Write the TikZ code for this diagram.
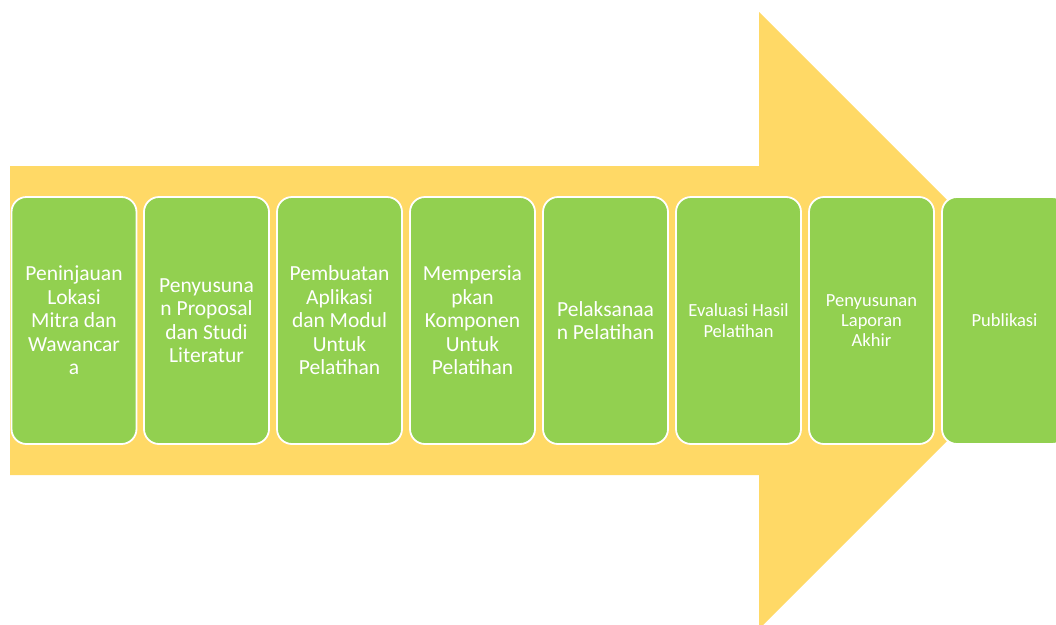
\documentclass[tikz,border=0pt]{standalone}
\usepackage{fontspec}
\setmainfont{Carlito}
\usepackage{tikz}
\usetikzlibrary{positioning}

\definecolor{arrowgold}{HTML}{FFD966}
\definecolor{stepgreen}{HTML}{92D050}

\begin{document}
\begin{tikzpicture}[
  x=1pt,y=-1pt,
  stepbox/.style={rectangle,rounded corners=15pt,draw=white,line width=1.8pt,fill=stepgreen,
    minimum width=125pt,minimum height=247pt,inner sep=2pt,align=center,text=white,
    font=\fontsize{21.5}{23.5}\selectfont},
  smallbox/.style={stepbox,font=\fontsize{18.5}{20.3}\selectfont}
]
  \clip (0,0) rectangle (1056,624);
  % big arrow behind the steps
  \fill[arrowgold] (10,166) -- (759,166) -- (759,12) -- (1067.5,320.5)
    -- (759,629) -- (759,475) -- (10,475) -- cycle;
  \node[stepbox]  (s1) at (74,320.5)    {Peninjauan\\Lokasi\\Mitra dan\\Wawancar\\a};
  \node[stepbox]  (s2) at (206.5,320.5) {Penyusuna\\n Proposal\\dan Studi\\Literatur};
  \node[stepbox]  (s3) at (339.5,320.5) {Pembuatan\\Aplikasi\\dan Modul\\Untuk\\Pelatihan};
  \node[stepbox]  (s4) at (472.5,320.5) {Mempersia\\pkan\\Komponen\\Untuk\\Pelatihan};
  \node[stepbox]  (s5) at (605.5,320.5) {Pelaksanaa\\n Pelatihan};
  \node[smallbox] (s6) at (738.5,320.5) {Evaluasi Hasil\\Pelatihan};
  \node[smallbox] (s7) at (871.5,320.5) {Penyusunan\\Laporan\\Akhir};
  \node[smallbox] (s8) at (1004.5,320.5) {Publikasi};
\end{tikzpicture}
\end{document}
